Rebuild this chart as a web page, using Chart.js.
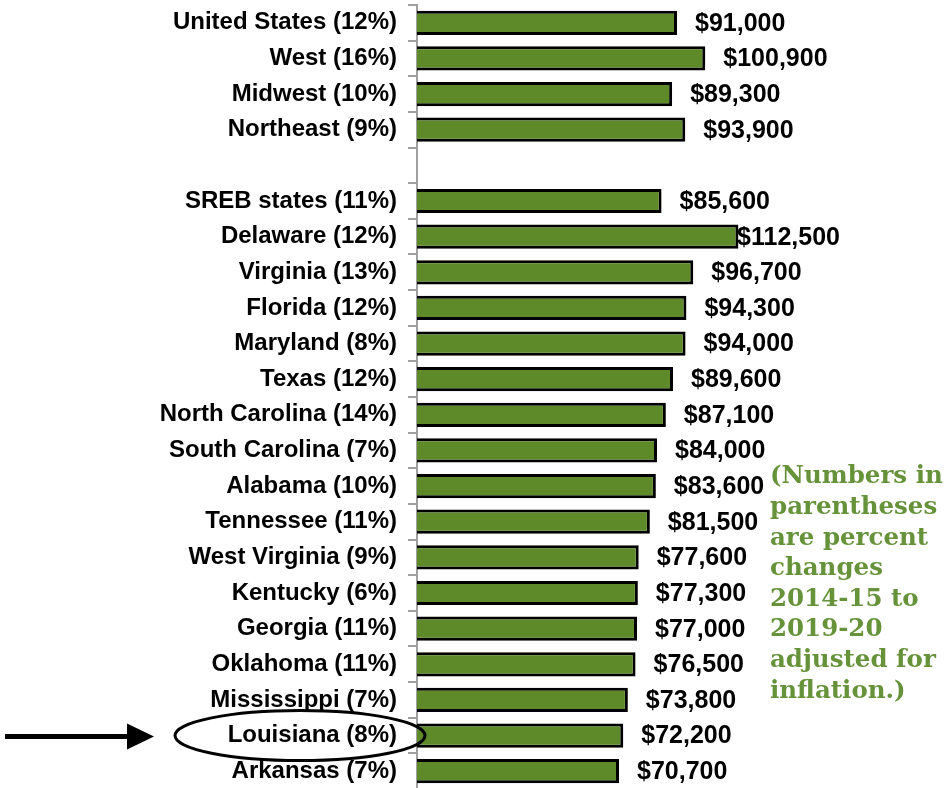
<!DOCTYPE html>
<html>
<head>
<meta charset="utf-8">
<script src="https://cdn.jsdelivr.net/npm/chart.js@4/dist/chart.umd.min.js"></script>
<style>
  html, body { margin: 0; padding: 0; background: #fff; overflow: hidden; }
  #wrap { position: relative; width: 947px; height: 789px; }
</style>
</head>
<body>
<div id="wrap"><canvas id="c"></canvas></div>
<script>
// ---- data ----
const regions = ["United States", "West", "Midwest", "Northeast", "",
  "SREB states", "Delaware", "Virginia", "Florida", "Maryland", "Texas",
  "North Carolina", "South Carolina", "Alabama", "Tennessee", "West Virginia",
  "Kentucky", "Georgia", "Oklahoma", "Mississippi", "Louisiana", "Arkansas"];
const pctChange = [12, 16, 10, 9, null,
  11, 12, 13, 12, 8, 12,
  14, 7, 10, 11, 9,
  6, 11, 11, 7, 8, 7];
const salaries = [91000, 100900, 89300, 93900, null,
  85600, 112500, 96700, 94300, 94000, 89600,
  87100, 84000, 83600, 81500, 77600,
  77300, 77000, 76500, 73800, 72200, 70700];
const noteLines = ["(Numbers in", "parentheses", "are percent", "changes",
  "2014-15 to", "2019-20", "adjusted for", "inflation.)"];
const highlighted = "Louisiana";

const labels = regions.map((r, i) => r === "" ? "" : `${r} (${pctChange[i]}%)`);

const BAR_GREEN = "#5E8A2A";
const NOTE_GREEN = "#66933A";

const valueLabels = {
  id: "valueLabels",
  afterDatasetsDraw(chart) {
    const ctx = chart.ctx;
    const meta = chart.getDatasetMeta(0);
    ctx.save();
    ctx.font = "bold 25px 'Liberation Sans', Arial, sans-serif";
    ctx.fillStyle = "#000";
    ctx.textAlign = "left";
    ctx.textBaseline = "middle";
    meta.data.forEach((bar, i) => {
      const v = salaries[i];
      if (v == null) return;
      const txt = "$" + v.toLocaleString("en-US");
      const w = ctx.measureText(txt).width;
      const x = Math.min(bar.x + 18, 840 - w);
      ctx.fillText(txt, x, bar.y + 1);
    });
    ctx.restore();
  }
};

const annotations = {
  id: "annotations",
  afterDraw(chart) {
    const ctx = chart.ctx;
    const yScale = chart.scales.y;
    ctx.save();
    ctx.font = "bold 24.5px 'DejaVu Serif', Georgia, serif";
    ctx.fillStyle = NOTE_GREEN;
    ctx.textAlign = "left";
    ctx.textBaseline = "middle";
    noteLines.forEach((ln, i) => ctx.fillText(ln, 770, 477 + i * 30.6));
    const idx = regions.indexOf(highlighted);
    const y = yScale.getPixelForValue(idx);
    ctx.strokeStyle = "#000";
    ctx.lineWidth = 3;
    ctx.beginPath();
    ctx.ellipse(300, y, 125, 25, 0, 0, Math.PI * 2);
    ctx.stroke();
    ctx.lineWidth = 5;
    ctx.beginPath();
    ctx.moveTo(5, y + 1);
    ctx.lineTo(132, y + 1);
    ctx.stroke();
    ctx.fillStyle = "#000";
    ctx.beginPath();
    ctx.moveTo(127, y - 12);
    ctx.lineTo(154, y + 1);
    ctx.lineTo(127, y + 14);
    ctx.closePath();
    ctx.fill();
    ctx.restore();
  }
};

new Chart(document.getElementById("c"), {
  type: "bar",
  data: {
    labels: labels,
    datasets: [{
      data: salaries,
      backgroundColor: BAR_GREEN,
      borderColor: "#000",
      borderWidth: 3,
      borderSkipped: "start",
      categoryPercentage: 1,
      barPercentage: 0.68
    }]
  },
  options: {
    indexAxis: "y",
    responsive: true,
    maintainAspectRatio: false,
    animation: false,
    layout: { autoPadding: false, padding: { top: 5, right: 0, bottom: 0, left: 0 } },
    plugins: { legend: { display: false }, tooltip: { enabled: false } },
    scales: {
      x: { display: false, min: 0, max: 185500 },
      y: {
        afterFit(s) { s.width = 417; s.paddingTop = 0; s.paddingBottom = 0; },
        grid: {
          display: true,
          drawOnChartArea: false,
          drawTicks: true,
          tickLength: 9,
          offset: true,
          color: "#A0A0A0",
          lineWidth: 2
        },
        border: { display: true, color: "#A0A0A0", width: 2 },
        ticks: {
          color: "#000",
          padding: 11,
          font: { family: "'Liberation Sans', Arial, sans-serif", size: 24, weight: "bold" },
          autoSkip: false
        }
      }
    }
  },
  plugins: [valueLabels, annotations]
});
</script>
</body>
</html>
